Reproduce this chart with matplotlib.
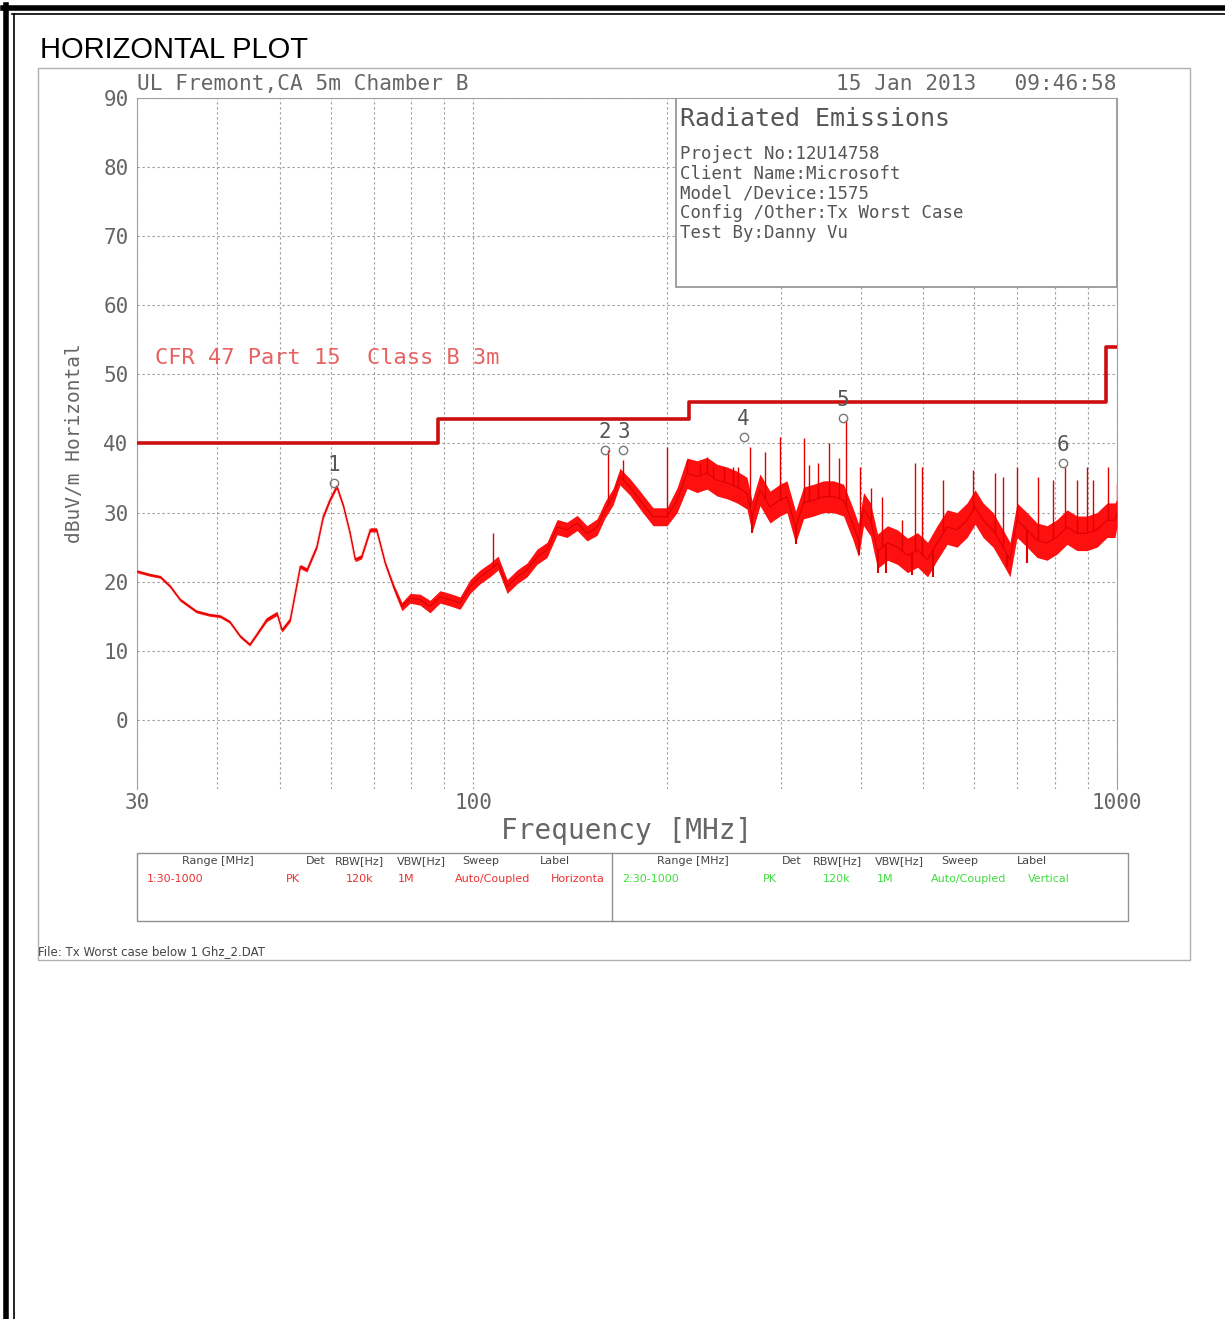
import numpy as np
import matplotlib.pyplot as plt
from matplotlib.patches import Rectangle
from matplotlib.lines import Line2D

W, H = 1225, 1319

# measured trace (MHz, dBuV/m) and visual half-width of the noisy band
trace_freq = [30.0, 31.4, 32.6, 33.8, 35.0, 37.1, 38.9, 40.4, 41.8, 43.4,
              44.9, 46.0, 47.7, 49.5, 50.4, 51.9, 53.8, 55.1, 57.1, 58.4,
              59.8, 61.3, 62.8, 64.3, 65.5, 67.0, 69.1, 70.7, 72.9, 75.1,
              77.4, 79.7, 82.6, 85.6, 88.7, 91.9, 95.3, 98.8, 102.4, 106.1,
              109.2, 112.8, 116.9, 121.1, 125.5, 130.1, 134.9, 139.7, 144.9, 150.1,
              155.6, 160.1, 164.8, 168.9, 175.1, 181.5, 190.1, 199.9, 207.2, 214.7,
              222.5, 230.6, 239.0, 247.7, 256.7, 266.1, 270.9, 278.8, 288.9, 299.4,
              307.0, 316.6, 325.8, 337.6, 349.9, 362.7, 375.9, 388.2, 396.6, 403.8,
              414.0, 424.5, 440.0, 455.9, 472.6, 489.8, 507.7, 525.3, 544.5, 564.3,
              584.8, 601.8, 619.3, 641.8, 665.2, 681.9, 699.2, 724.7, 751.1, 778.4,
              807.0, 836.4, 866.8, 898.4, 931.0, 965.1, 993.0, 1000.0]
trace_level = [21.5, 21.0, 20.7, 19.3, 17.4, 15.7, 15.2, 15.0, 14.2, 12.1,
               10.9, 12.3, 14.5, 15.4, 13.0, 14.5, 22.2, 21.7, 25.1, 29.4,
               31.8, 33.8, 30.9, 27.0, 23.2, 23.6, 27.5, 27.5, 22.7, 19.3,
               16.4, 17.6, 17.4, 16.4, 17.8, 17.4, 16.9, 19.3, 20.7, 21.7,
               22.7, 19.3, 20.7, 21.7, 23.6, 24.6, 27.9, 27.5, 28.5, 27.0,
               27.9, 30.4, 32.3, 35.2, 33.7, 31.8, 29.4, 29.4, 31.8, 35.7,
               35.2, 35.7, 34.7, 34.3, 33.7, 32.8, 29.4, 33.3, 30.8, 31.8,
               32.3, 27.9, 31.4, 31.8, 32.3, 32.3, 31.8, 28.5, 26.0, 30.5,
               29.0, 24.4, 25.6, 25.0, 23.8, 24.6, 23.2, 25.6, 27.9, 27.5,
               28.9, 30.8, 28.9, 27.5, 25.0, 23.2, 28.9, 27.5, 26.0, 25.6,
               26.5, 27.9, 27.0, 27.0, 27.5, 28.9, 28.9, 30.0]
trace_spread = [0.2, 0.2, 0.2, 0.2, 0.2, 0.2, 0.2, 0.2, 0.2, 0.2,
                0.2, 0.2, 0.3, 0.3, 0.3, 0.3, 0.3, 0.3, 0.3, 0.3,
                0.3, 0.3, 0.3, 0.3, 0.3, 0.3, 0.3, 0.3, 0.3, 0.4,
                0.6, 0.7, 0.8, 0.9, 0.9, 0.9, 0.9, 1.0, 1.0, 1.0,
                1.0, 1.0, 1.0, 1.0, 1.1, 1.1, 1.1, 1.1, 1.1, 1.1,
                1.2, 1.2, 1.2, 1.2, 1.2, 1.3, 1.3, 1.3, 1.8, 2.2,
                2.3, 2.3, 2.3, 2.3, 2.3, 2.3, 2.3, 2.3, 2.3, 2.3,
                2.3, 2.3, 2.3, 2.3, 2.3, 2.3, 2.3, 2.3, 2.4, 2.4,
                2.4, 2.5, 2.5, 2.5, 2.5, 2.5, 2.5, 2.5, 2.5, 2.5,
                2.5, 2.5, 2.5, 2.5, 2.5, 2.5, 2.5, 2.5, 2.5, 2.5,
                2.5, 2.5, 2.5, 2.5, 2.5, 2.5, 2.5, 2.0]

# narrow peaks above the band
spike_freq = [107.2, 161.8, 170.7, 199.9, 214.7, 225.0, 230.6, 236.0, 245.0, 253.0,
              258.0, 269.0, 283.8, 299.4, 325.8, 332.2, 343.6, 356.2, 369.2, 378.6,
              399.4, 414.0, 431.5, 463.2, 485.5, 497.9, 536.7, 597.7, 646.3, 665.2,
              699.2, 753.8, 795.2, 830.3, 866.8, 898.4, 917.8, 968.4, 1000.0]
spike_level = [27.0, 39.1, 37.6, 39.5, 37.6, 37.0, 38.1, 36.6, 36.6, 36.6,
               36.6, 39.5, 38.8, 41.0, 40.8, 36.9, 37.2, 40.1, 37.9, 43.4,
               36.6, 33.5, 32.3, 28.9, 37.2, 36.6, 34.7, 36.2, 35.7, 35.2,
               36.6, 35.2, 34.7, 36.6, 34.7, 36.6, 34.7, 36.6, 34.3]

# narrow dips below the band
dip_freq = [270.9, 316.6, 396.6, 424.5, 437.0, 480.0, 518.0, 675.0, 725.0]
dip_level = [27.0, 25.5, 23.9, 21.3, 21.3, 21.0, 20.7, 22.1, 22.7]

limit_freq = [30, 88, 216, 960, 1000]
limit_level = [40, 43.5, 46, 54, 54]

marker_freq = [60.7, 160.0, 171.0, 263.0, 375.0, 825.0]
marker_level = [34.3, 39.1, 39.1, 41.0, 43.7, 37.2]
marker_label = ['1', '2', '3', '4', '5', '6']

info_lines = ['Project No:12U14758', 'Client Name:Microsoft', 'Model /Device:1575',
              'Config /Other:Tx Worst Case', 'Test By:Danny Vu']
table_head = ['Range [MHz]', 'Det', 'RBW[Hz]', 'VBW[Hz]', 'Sweep', 'Label']
row_horiz = ['1:30-1000', 'PK', '120k', '1M', 'Auto/Coupled', 'Horizonta']
row_vert = ['2:30-1000', 'PK', '120k', '1M', 'Auto/Coupled', 'Vertical']

MONO = 'DejaVu Sans Mono'
SANS = 'DejaVu Sans'
GREY = '#666666'


def fx(x):
    return x / W


def fy(y):
    return 1 - y / H


fig = plt.figure(figsize=(W / 100, H / 100), dpi=100)

# page frame
for (x0, y0, x1, y1, lw) in [(3, 8, W, 8, 4.0), (12, 14, W, 14, 1.2),
                             (6, 5, 6, H, 4.0), (14, 14, 14, H, 1.2)]:
    fig.add_artist(Line2D([fx(x0), fx(x1)], [fy(y0), fy(y1)], color='black', lw=lw))

fig.text(fx(40), fy(50), 'HORIZONTAL PLOT', fontsize=21, family='Liberation Sans', va='center')
fig.add_artist(Rectangle((fx(38), fy(960)), fx(1190) - fx(38), fy(68) - fy(960),
                         fill=False, ec='#b0b0b0', lw=1))

ax = fig.add_axes([fx(137), fy(789), fx(1117) - fx(137), fy(98) - fy(789)])
ax.set_xscale('log')
ax.set_xlim(30, 1000)
ax.set_ylim(-10, 90)

lev = np.array(trace_level)
spr = np.array(trace_spread)
ax.fill_between(trace_freq, lev - spr, lev + spr, color='#ff1010', lw=0, zorder=3)
ax.plot(trace_freq, trace_level, color='#ff9090', lw=2.5, alpha=0.3, zorder=2)
ax.plot(trace_freq, trace_level, color='#dd0000', lw=0.8, zorder=3)
logf = np.log10(trace_freq)
base = np.interp(np.log10(spike_freq), logf, lev)
ax.vlines(spike_freq, base, spike_level, color='#e00000', lw=1, zorder=3)
base = np.interp(np.log10(dip_freq), logf, lev)
ax.vlines(dip_freq, dip_level, base, color='#e00000', lw=1.5, zorder=3)

ax.step(limit_freq, limit_level, where='post', color='#cc1010', lw=2.6, zorder=4)

for f, l, t in zip(marker_freq, marker_level, marker_label):
    ax.plot(f, l, marker='o', ms=6, mfc='none', mec='#777777', mew=1, zorder=6)
    ax.text(f, l + 1.1, t, ha='center', va='bottom', fontsize=15, color='#555555',
            family=MONO, zorder=6)

ax.set_yticks(range(0, 100, 10))
ax.set_yticklabels([str(v) for v in range(0, 100, 10)], family=MONO, fontsize=15, color=GREY)
ax.set_xticks([30, 100, 1000])
ax.set_xticklabels(['30', '100', '1000'], family=MONO, fontsize=15, color=GREY)
ax.set_xticks([40, 50, 60, 70, 80, 90, 200, 300, 400, 500, 600, 700, 800, 900], minor=True)
ax.xaxis.set_minor_formatter(plt.NullFormatter())
ax.tick_params(which='both', length=0)
ax.tick_params(axis='y', pad=6)
ax.tick_params(axis='x', pad=3)
ax.grid(which='both', color='#9a9a9a', ls=(0, (2, 2.5)), lw=0.8)
ax.set_axisbelow(True)
for s in ['left', 'right']:
    ax.spines[s].set_color('#a0a0a0')
ax.spines['top'].set_color('#a0a0a0')
ax.spines['top'].set_linestyle((0, (2, 1)))
ax.spines['bottom'].set_visible(False)

ax.set_xlabel('Frequency [MHz]', family=MONO, fontsize=20, color=GREY, labelpad=3)
ax.set_ylabel('dBuV/m Horizontal', family=MONO, fontsize=14, color=GREY, labelpad=14)

# info box
ax.add_patch(Rectangle((0.55, 0.7265), 0.45, 0.2735, transform=ax.transAxes,
                       fc='white', ec='#909090', lw=1.2, zorder=5))
ax.text(0.554, 0.9696, 'Radiated Emissions', transform=ax.transAxes, family=MONO,
        fontsize=18, color='#555555', va='center', zorder=6)
for i, s in enumerate(info_lines):
    ax.text(0.554, 0.919 - i * 0.0287, s, transform=ax.transAxes, family=MONO,
            fontsize=12.5, color='#555555', va='center', zorder=6)

ax.text(0.0184, 0.6237, 'CFR 47 Part 15  Class B 3m', transform=ax.transAxes,
        family=MONO, fontsize=15.8, color='#e86060', va='center', zorder=6)

fig.text(fx(137), fy(84), 'UL Fremont,CA 5m Chamber B', family=MONO, fontsize=15.2,
         color=GREY, va='center')
fig.text(fx(1117), fy(84), '15 Jan 2013   09:46:58', family=MONO, fontsize=15.2,
         color=GREY, va='center', ha='right')

# settings table
fig.add_artist(Rectangle((fx(137), fy(921)), fx(1128) - fx(137), fy(853) - fy(921),
                         fill=False, ec='#909090', lw=1))
fig.add_artist(Line2D([fx(612), fx(612)], [fy(853), fy(921)], color='#909090', lw=1))
head_x = [[218, 316, 359, 421, 481, 555], [693, 792, 837, 899, 960, 1032]]
row_x = [[147, 286, 346, 398, 455, 551], [622, 763, 823, 877, 931, 1028]]
for side, (row, col) in enumerate([(row_horiz, '#ee3030'), (row_vert, '#40dd40')]):
    for j, h in enumerate(table_head):
        fig.text(fx(head_x[side][j]), fy(861), h, family=SANS, fontsize=8,
                 color='#444444', ha='center', va='center')
    for j, v in enumerate(row):
        fig.text(fx(row_x[side][j]), fy(879), v, family=SANS, fontsize=8,
                 color=col, ha='left', va='center')

fig.text(fx(38), fy(952), 'File: Tx Worst case below 1 Ghz_2.DAT', family=SANS,
         fontsize=8.5, color='#444444', va='center')

fig.savefig('out.png', dpi=100)
